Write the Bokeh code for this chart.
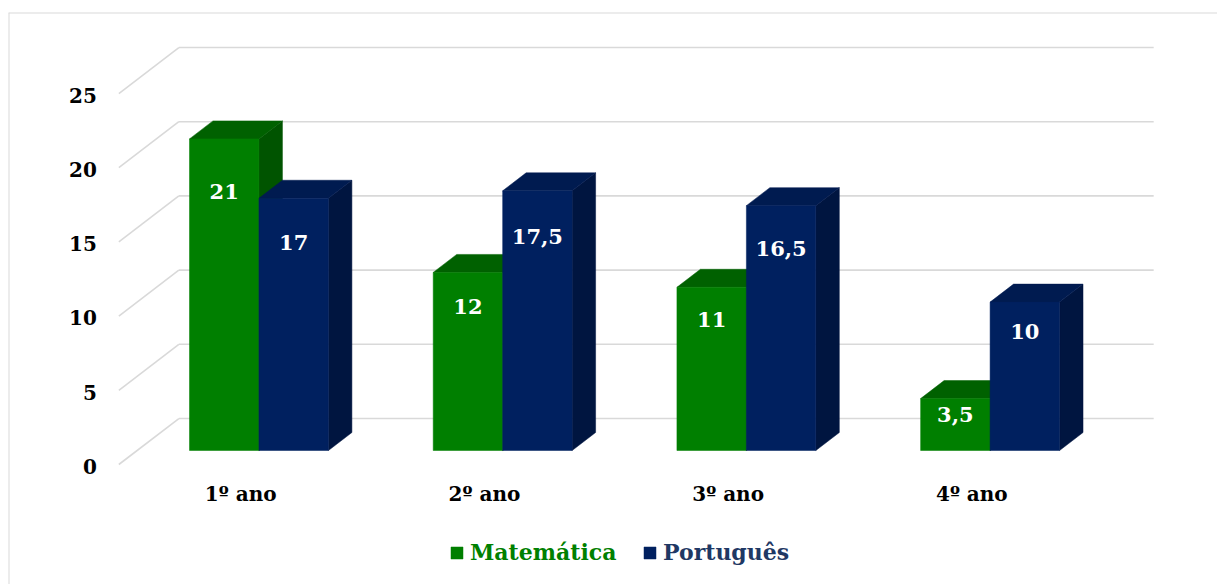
from bokeh.plotting import figure
from bokeh.models import Range1d, Legend, LegendItem, Span
from bokeh.embed import file_html
from bokeh.resources import INLINE
from bokeh.core.properties import value

# ---------------- data ----------------
categories = ["1º ano", "2º ano", "3º ano", "4º ano"]
matematica = [21, 12, 11, 3.5]
portugues = [17, 17.5, 16.5, 10]
series_names = ["Matemática", "Português"]
y_ticks = [0, 5, 10, 15, 20, 25]

# ---------------- layout / style ----------------
W, H = 1217, 584
FONT = "DejaVu Serif"
PX_X = 243.7    # pixels per category unit
PX_Y = 14.84    # pixels per value unit
SLOPE = 1.304   # horizontal px per vertical px of depth
BAR_W = 0.285   # bar width in category units

def depth(d):
    """offset (dx, dy) in data units for a depth of d pixels"""
    return d * SLOPE / PX_X, d / PX_Y

FRONT = depth(14)   # front face of bars
BACK = depth(32)    # back face of bars
WALL = depth(46)    # back wall

face_colors = {
    0: dict(front="#007F00", top="#006100", side="#005400"),
    1: dict(front="#00205F", top="#001B50", side="#001540"),
}
legend_text_colors = ["#008000", "#1F3864"]
GRID = "#D9D9D9"

p = figure(width=W, height=H, output_backend="svg", toolbar_location=None,
           x_axis_type=None, y_axis_type=None,
           x_range=Range1d(-0.9528, 4.008), y_range=Range1d(-8.086, 30.46),
           min_border_top=12, min_border_left=8, min_border_right=0, min_border_bottom=0)
p.outline_line_color = None
p.background_fill_color = "white"
p.border_fill_color = "white"

# chart area border (top/left visible)
p.add_layout(Span(location=p.x_range.start, dimension="height", line_color=GRID, line_width=2))
p.add_layout(Span(location=p.y_range.end, dimension="width", line_color=GRID, line_width=2))

n = len(categories)
floor_l, floor_r = -0.5, n - 0.5

# back wall grid lines and left side-wall diagonals
gx, gy = [], []
for v in y_ticks:
    gx.append([floor_l + WALL[0], floor_r + WALL[0]])
    gy.append([v + WALL[1], v + WALL[1]])
    gx.append([floor_l, floor_l + WALL[0]])
    gy.append([v, v + WALL[1]])
p.multi_line(gx, gy, line_color=GRID, line_width=1.6)

# y tick labels
p.text(x=[floor_l - 0.09] * len(y_ticks), y=[t - 0.12 for t in y_ticks], text=[str(t) for t in y_ticks],
       text_align="right", text_baseline="middle", text_color="#000000",
       text_font=value(FONT), text_font_style="bold", text_font_size="20px")

# category labels
p.text(x=list(range(n)), y=[-2.02] * n, text=categories,
       text_align="center", text_baseline="middle", text_color="#000000",
       text_font=value(FONT), text_font_style="bold", text_font_size="20px")

# 3D bars
front_renderers = []
for s, vals in enumerate([matematica, portugues]):
    fx, fy = FRONT
    bx, by = BACK
    fronts_x, fronts_y, tops_x, tops_y, sides_x, sides_y = [], [], [], [], [], []
    lab_x, lab_y, lab_t = [], [], []
    for i, v in enumerate(vals):
        l = i - BAR_W + s * BAR_W
        r = l + BAR_W
        fronts_x.append([l + fx, r + fx, r + fx, l + fx])
        fronts_y.append([fy, fy, v + fy, v + fy])
        tops_x.append([l + fx, r + fx, r + bx, l + bx])
        tops_y.append([v + fy, v + fy, v + by, v + by])
        sides_x.append([r + fx, r + bx, r + bx, r + fx])
        sides_y.append([fy, by, v + by, v + fy])
        lab_x.append((l + r) / 2 + fx)
        lab_y.append(v - (0.6 + 0.14 * v) + fy)
        lab_t.append(f"{v:g}".replace(".", ","))
    c = face_colors[s]
    p.patches(sides_x, sides_y, fill_color=c["side"], line_color=c["side"], line_width=0.5)
    p.patches(tops_x, tops_y, fill_color=c["top"], line_color=c["top"], line_width=0.5)
    fr = p.patches(fronts_x, fronts_y, fill_color=c["front"], line_color=c["front"], line_width=0.5)
    front_renderers.append(fr)
    p.text(x=lab_x, y=lab_y, text=lab_t, text_align="center", text_baseline="middle",
           text_color="white", text_font=value(FONT), text_font_style="bold",
           text_font_size="21px")

# legends (one per series to allow distinct text colours)
legend_x = [441, 634]
for s, name in enumerate(series_names):
    lg = Legend(items=[LegendItem(label=name, renderers=[front_renderers[s]])],
                location=(legend_x[s], 19), orientation="horizontal",
                padding=0, margin=0, spacing=0,
                glyph_width=15, glyph_height=15, label_standoff=6,
                label_text_font=FONT, label_text_font_style="bold",
                label_text_font_size="22px", label_text_color=legend_text_colors[s],
                background_fill_alpha=0, border_line_color=None)
    p.add_layout(lg)

open("out.html", "w").write(file_html(p, INLINE))
